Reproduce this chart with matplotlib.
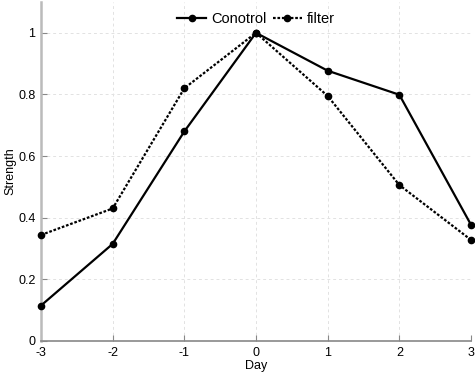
import matplotlib
matplotlib.use("Agg")
import matplotlib.pyplot as plt

plt.rcParams['font.family'] = ['Liberation Sans', 'DejaVu Sans']

# Données
jours = [-3, -2, -1, 0, 1, 2, 3]
controle = [0.115, 0.315, 0.68, 1.0, 0.877, 0.799, 0.377]
filtre = [0.344, 0.43, 0.82, 1.0, 0.795, 0.506, 0.328]
yticks = [0, 0.2, 0.4, 0.6, 0.8, 1]
ytick_labels = ['0', '0.2', '0.4', '0.6', '0.8', '1']

fig = plt.figure(figsize=(4.75, 3.75), dpi=100)
ax = fig.add_axes([0.0863, 0.0907, 0.9053, 0.904])

ax.plot(jours, controle, color='black', linestyle='-', linewidth=1.6,
        marker='o', markersize=4.5, label='Conotrol', clip_on=False, zorder=3)
ax.plot(jours, filtre, color='black', linestyle=(0, (1.2, 0.8)), linewidth=1.6,
        marker='o', markersize=4.5, label='filter', clip_on=False, zorder=3)

ax.set_xlim(-3, 3)
ax.set_ylim(0, 1.1)
ax.set_xticks(jours)
ax.set_xticklabels([str(j) for j in jours])
ax.set_yticks(yticks)
ax.set_yticklabels(ytick_labels)

ax.grid(True, color='#e2e2e2', linestyle=(0, (3, 3)), linewidth=0.7)
ax.set_axisbelow(True)

for s in ['top', 'right']:
    ax.spines[s].set_visible(False)
ax.spines['left'].set_color('#bbbbbb')
ax.spines['left'].set_linewidth(1.8)
ax.spines['bottom'].set_color('#888888')
ax.spines['bottom'].set_linewidth(1.2)

ax.tick_params(direction='in', length=4, width=0.8, color='#888888',
               labelsize=9, pad=4)
ax.set_xlabel('Day', fontsize=9, labelpad=1)
ax.set_ylabel('Strength', fontsize=9, labelpad=1)

ax.legend(loc='upper center', bbox_to_anchor=(0.5, 1.008), ncol=2,
          frameon=False, fontsize=10.5, handlelength=2.0, handletextpad=0.35,
          columnspacing=0.4)

fig.savefig('out.png', dpi=100)
